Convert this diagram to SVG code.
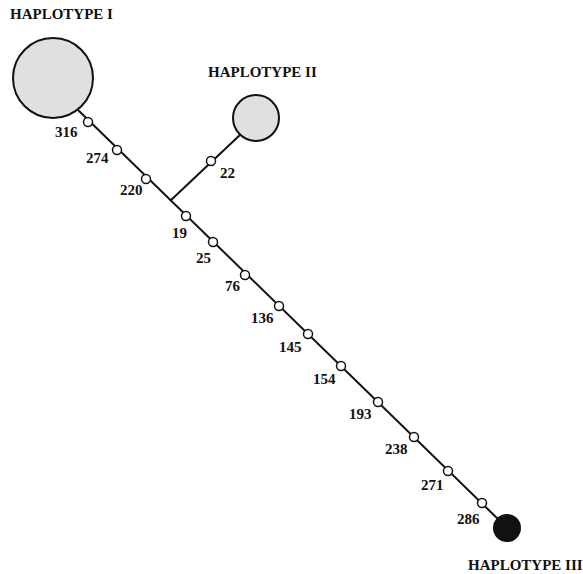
<svg xmlns="http://www.w3.org/2000/svg" width="583" height="574" viewBox="0 0 583 574">
<style>
.t{font-family:"Liberation Serif","Times New Roman",serif;font-weight:bold;font-size:15px;fill:#111}
.e{stroke:#111;stroke-width:2;fill:none}
.m{fill:#fff;stroke:#111;stroke-width:1.5}
.h{fill:#e0e0e0;stroke:#111;stroke-width:2}
</style>
<rect width="583" height="574" fill="#fff"/>
<g id="connectors">
<line class="e" x1="78" y1="110" x2="500" y2="521"/>
<line class="e" x1="170" y1="201" x2="241" y2="134"/>
</g>
<g id="hapI"><circle class="h" cx="53" cy="78" r="40"/><text class="t" x="10" y="19">HAPLOTYPE I</text></g>
<g id="hapII"><circle class="h" cx="256" cy="118" r="23"/><text class="t" x="208" y="77">HAPLOTYPE II</text></g>
<g id="hapIII"><circle cx="507" cy="528" r="14" fill="#111"/><text class="t" x="468" y="570">HAPLOTYPE III</text></g>
<g id="m316"><circle class="m" cx="88" cy="122" r="4.5"/><text class="t" x="55" y="137">316</text></g>
<g id="m274"><circle class="m" cx="117" cy="150" r="4.5"/><text class="t" x="86" y="163">274</text></g>
<g id="m220"><circle class="m" cx="146" cy="179" r="4.5"/><text class="t" x="120" y="195">220</text></g>
<g id="m22"><circle class="m" cx="211" cy="161" r="4.5"/><text class="t" x="220" y="178">22</text></g>
<g id="m19"><circle class="m" cx="186" cy="216" r="4.5"/><text class="t" x="172" y="238">19</text></g>
<g id="m25"><circle class="m" cx="213" cy="242" r="4.5"/><text class="t" x="196" y="263">25</text></g>
<g id="m76"><circle class="m" cx="245" cy="275" r="4.5"/><text class="t" x="225" y="291">76</text></g>
<g id="m136"><circle class="m" cx="279" cy="306" r="4.5"/><text class="t" x="251" y="323">136</text></g>
<g id="m145"><circle class="m" cx="308" cy="334" r="4.5"/><text class="t" x="279" y="352">145</text></g>
<g id="m154"><circle class="m" cx="341" cy="366" r="4.5"/><text class="t" x="313" y="384">154</text></g>
<g id="m193"><circle class="m" cx="378" cy="402" r="4.5"/><text class="t" x="349" y="419">193</text></g>
<g id="m238"><circle class="m" cx="414" cy="437" r="4.5"/><text class="t" x="385" y="454">238</text></g>
<g id="m271"><circle class="m" cx="448" cy="471" r="4.5"/><text class="t" x="421" y="490">271</text></g>
<g id="m286"><circle class="m" cx="482" cy="503" r="4.5"/><text class="t" x="457" y="524">286</text></g>
</svg>
